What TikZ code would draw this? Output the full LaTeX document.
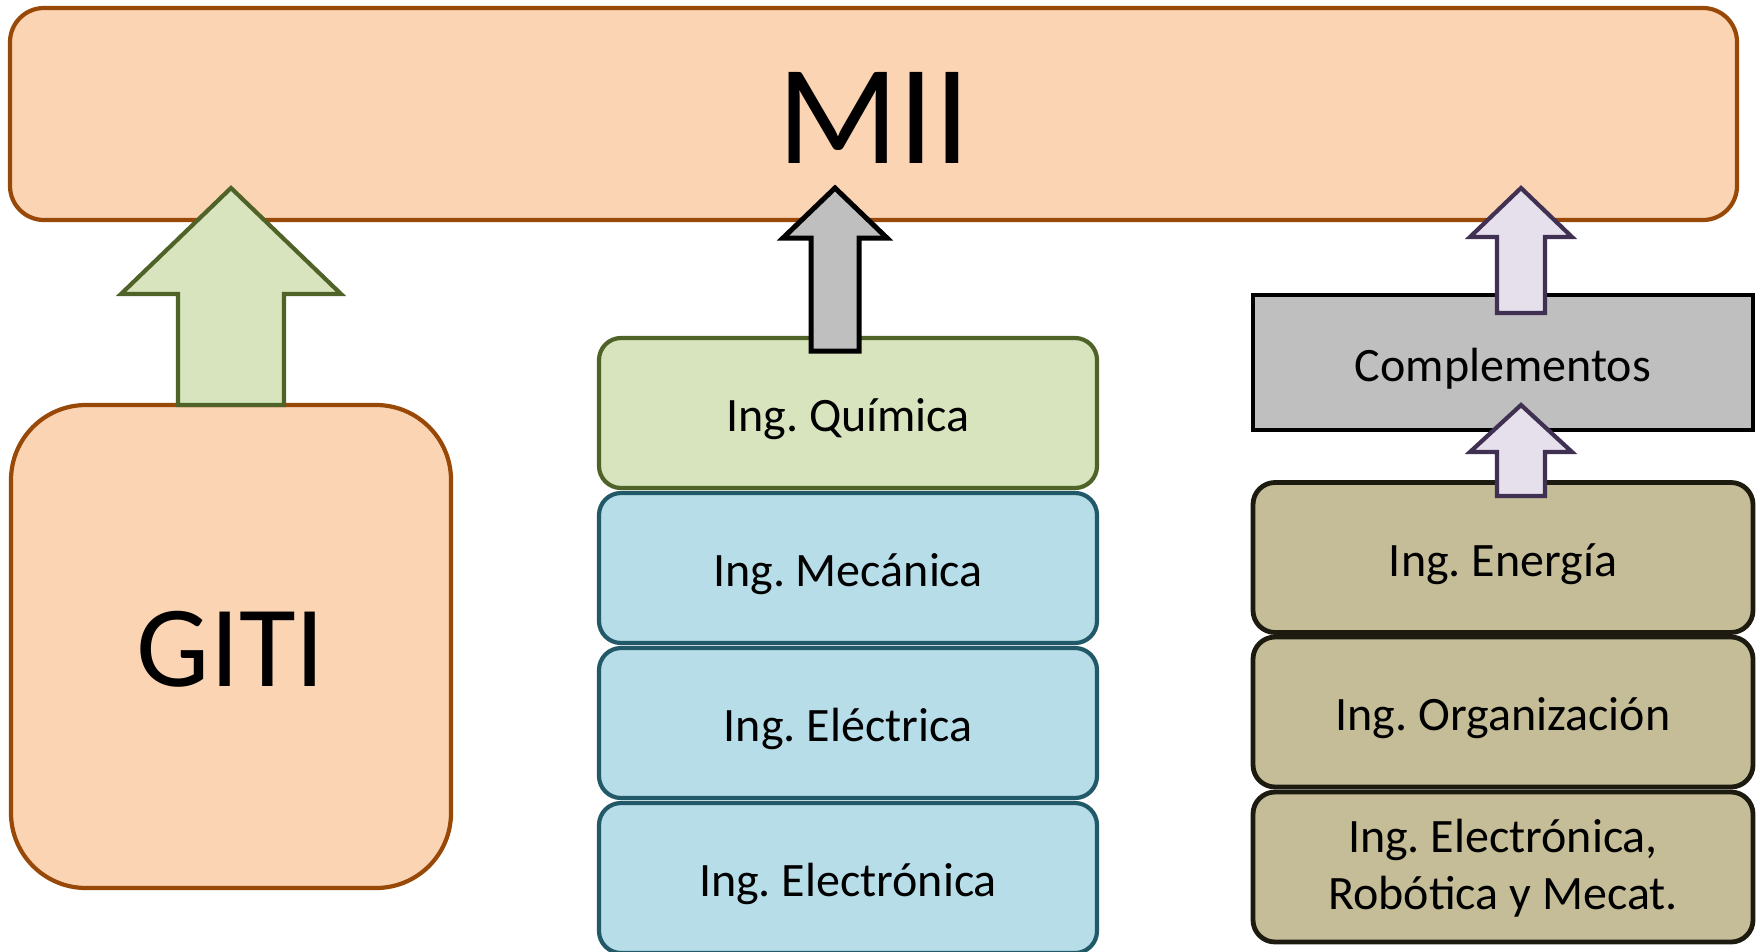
\documentclass[tikz,border=0pt]{standalone}
\usepackage{fontspec}
\setmainfont{Carlito}
\frenchspacing

\definecolor{peachfill}{HTML}{FBD4B4}
\definecolor{peachline}{HTML}{984807}
\definecolor{greenfill}{HTML}{D7E4BD}
\definecolor{greenline}{HTML}{4F6228}
\definecolor{bluefill}{HTML}{B7DDE8}
\definecolor{blueline}{HTML}{215968}
\definecolor{greyfill}{HTML}{BFBFBF}
\definecolor{lilacfill}{HTML}{E6E0EC}
\definecolor{lilacline}{HTML}{403152}
\definecolor{khakifill}{HTML}{C4BD97}
\definecolor{khakiline}{HTML}{1D1B10}

% block arrow pointing up: #1 centre x, #2 tip y, #3 wing y, #4 base y,
% #5 half head width, #6 half shaft width, #7 style
\newcommand{\upblock}[7]{%
  \draw[#7] (#1,#2) -- (#1+#5,#3) -- (#1+#6,#3) -- (#1+#6,#4)
    -- (#1-#6,#4) -- (#1-#6,#3) -- (#1-#5,#3) -- cycle;}

\tikzset{
  basebox/.style={draw, line width=4.2pt, inner sep=0pt, align=center,
    font=\fontsize{48}{57}\selectfont},
  oneline/.style={text height=37.5pt, text depth=0pt},
  peachbox/.style={basebox, fill=peachfill, draw=peachline},
  chembox/.style={basebox, oneline, fill=greenfill, draw=greenline,
    rounded corners=22pt, minimum width=498pt, minimum height=150pt},
  mechbox/.style={basebox, oneline, fill=bluefill, draw=blueline,
    rounded corners=22pt, minimum width=498pt, minimum height=150pt},
  compbox/.style={basebox, oneline, fill=greyfill, draw=black, line width=4.8pt,
    minimum width=500pt, minimum height=135pt},
  engbox/.style={basebox, fill=khakifill, draw=khakiline, line width=4.8pt,
    rounded corners=22pt, minimum width=500pt, minimum height=150pt},
  greenarrow/.style={fill=greenfill, draw=greenline, line width=4.2pt, miter limit=10},
  greyarrow/.style={fill=greyfill, draw=black, line width=5pt, miter limit=10},
  lilacarrow/.style={fill=lilacfill, draw=lilacline, line width=4.2pt, miter limit=10},
}

\begin{document}
\begin{tikzpicture}[x=1pt,y=-1pt]
\useasboundingbox (0,0) rectangle (1759,951);
\begin{scope}
\clip (0,0) rectangle (1759,951);

% top programme
\node[peachbox, rounded corners=34pt, minimum width=1727pt, minimum height=212pt,
  font=\fontsize{142}{150}\selectfont, text height=99pt, text depth=0pt]
  (mii) at (873.5,114) {MII};

% undergraduate degree
\node[peachbox, rounded corners=75pt, minimum width=440pt, minimum height=483pt,
  font=\fontsize{116}{130}\selectfont, text height=80pt, text depth=0pt]
  (giti) at (231,646.5) {GITI};

% middle stack
\node[chembox] (quim) at (848,413) {Ing. Química};
\node[mechbox] (mec)  at (848,568) {Ing. Mecánica};
\node[mechbox] (elec) at (848,723) {Ing. Eléctrica};
\node[mechbox] (eltr) at (848,878) {Ing. Electrónica};

% right column
\node[compbox] (comp) at (1503,362.5) {Complementos};
\node[engbox, oneline] (ener) at (1503,557.5) {Ing. Energía};
\node[engbox, oneline] (org)  at (1503,712) {Ing. Organización};
\node[engbox] (erm)  at (1503,867)
  {\raisebox{-3pt}[\height][\depth]{\begin{tabular}{@{}c@{}}Ing. Electrónica,\\Robótica y Mecat.\end{tabular}}};

% block arrows
\upblock{231}{188}{294}{405}{110}{53}{greenarrow}
\upblock{835}{188}{238}{351}{52}{24}{greyarrow}
\upblock{1521}{188}{237}{313}{51}{24}{lilacarrow}
\upblock{1521}{405}{452}{496}{51}{24}{lilacarrow}
\end{scope}
\end{tikzpicture}
\end{document}
